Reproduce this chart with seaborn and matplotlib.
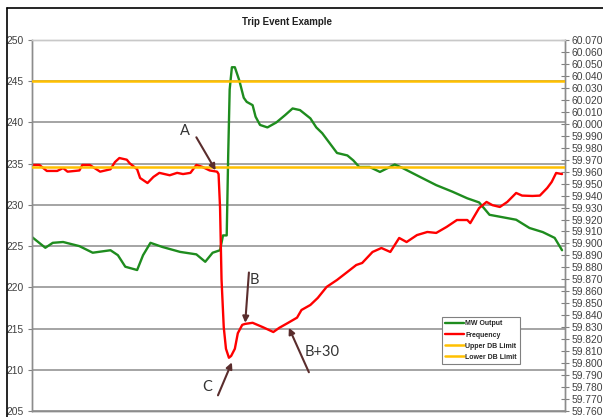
# Trip event chart: MW output (left axis) and frequency (right axis)

import matplotlib.pyplot as plt
import seaborn as sns
from matplotlib.lines import Line2D

# MW output, seconds vs MW
mw_time = [0, 9, 14, 21, 32, 41, 53, 58, 63, 71, 75, 80, 88, 100, 111, 117, 122, 127, 129,
           131.5, 132.5, 133.5, 135, 137, 140, 143, 145, 149, 151, 154, 159, 165, 171, 176,
           181, 188, 192, 196, 201, 206, 213, 217, 221, 228, 235, 245, 250, 262, 273, 284,
           294, 302, 309, 318, 327, 336, 345, 353, 358]
mw_output = [226.1, 224.8, 225.4, 225.5, 225.0, 224.2, 224.5, 223.9, 222.5, 222.1, 223.9,
             225.4, 224.9, 224.3, 224.0, 223.1, 224.2, 224.5, 226.3,
             226.3, 236.0, 244.0, 246.7, 246.7, 245.1, 243.0, 242.5, 242.1, 240.7, 239.7,
             239.4, 240.0, 240.9, 241.7, 241.5, 240.5, 239.4, 238.7, 237.5, 236.3, 236.0,
             235.4, 234.6, 234.6, 234.0, 234.9, 234.5, 233.4, 232.4, 231.6, 230.8, 230.3,
             228.8, 228.5, 228.2, 227.2, 226.7, 226.0, 224.5]

# Frequency, seconds vs Hz
freq_time = [0, 5, 10, 17, 21, 24, 32, 34, 39, 46, 53, 56, 59, 64, 66, 71, 73, 78, 82, 86,
             93, 98, 102, 107, 111, 115, 120, 125, 126, 127, 128, 129.5, 131, 133, 134.5,
             137, 139, 142, 144, 149, 156, 163, 167, 173, 179, 182, 188, 193, 199, 206, 213,
             219, 223, 230, 236, 242, 248, 253, 260, 267, 273, 280, 287, 294, 296, 302, 307,
             311, 316, 321, 327, 331, 338, 343, 348, 351, 354, 358]
frequency = [59.9656, 59.9656, 59.9606, 59.9606, 59.963, 59.960, 59.961, 59.9656, 59.9656,
             59.960, 59.962, 59.968, 59.9714, 59.970, 59.967, 59.962, 59.9547, 59.9505,
             59.9556, 59.959, 59.957, 59.959, 59.958, 59.959, 59.9656, 59.964, 59.961,
             59.960, 59.958, 59.930, 59.870, 59.830, 59.812, 59.8045, 59.806, 59.812,
             59.825, 59.832, 59.8328, 59.8337, 59.830, 59.826, 59.8295, 59.8337, 59.838,
             59.8444, 59.8486, 59.8545, 59.8637, 59.8695, 59.8762, 59.882, 59.8837,
             59.8929, 59.8962, 59.8929, 59.9046, 59.9012, 59.907, 59.9096, 59.9088,
             59.9138, 59.9196, 59.9196, 59.917, 59.9296, 59.9347, 59.932, 59.9305,
             59.9347, 59.9422, 59.940, 59.9397, 59.940, 59.9464, 59.9514, 59.9589, 59.958]

upper_db = 60.036
lower_db = 59.964

# annotations: label, text position, arrow tail, arrow head (time, MW)
notes = ["A", "B", "C", "B+30"]
note_text = [(103, 239.0), (150.5, 220.9), (118, 207.9), (196, 212.1)]
note_tail = [(111, 238.2), (146.5, 221.8), (125.6, 206.9), (187, 209.7)]
note_head = [(124, 234.2), (144, 215.7), (135, 210.9), (173.5, 215.1)]

sns.set_style("white")
plt.rcParams['font.family'] = ['Liberation Sans', 'DejaVu Sans']

fig, ax = plt.subplots(figsize=(6.03, 4.17), dpi=100)
fig.subplots_adjust(left=0.0531, right=0.937, bottom=0.0144, top=0.904)
ax2 = ax.twinx()

green = '#1e8c1e'
red = '#ff0000'
gold = '#ffc000'

sns.lineplot(x=mw_time, y=mw_output, ax=ax, color=green, lw=1.7, estimator=None,
             label='MW Output')
sns.lineplot(x=freq_time, y=frequency, ax=ax2, color=red, lw=1.7, estimator=None,
             label='Frequency')
ax2.axhline(upper_db, color=gold, lw=1.8, label='Upper DB Limit', zorder=3)
ax2.axhline(lower_db, color=gold, lw=1.8, label='Lower DB Limit', zorder=3)
for a in (ax, ax2):
    if a.get_legend():
        a.get_legend().remove()

ax.set_xlim(0, 360)
ax.set_ylim(205, 250)
ax.set_yticks(range(205, 251, 5))
ax2.set_ylim(59.76, 60.07)
ax2.set_yticks([59.76 + 0.01 * i for i in range(32)])
ax2.set_yticklabels([f"{59.76 + 0.01 * i:.3f}" for i in range(32)])
ax.set_xticks([])
ax2.set_xticks([])
ax.set_xlabel('')
ax.set_ylabel('')
ax2.set_ylabel('')

ax.yaxis.grid(True, color='#8c8c8c', lw=1.1)
ax.set_axisbelow(True)
ax.tick_params(axis='y', direction='out', length=3, width=0.8, color='#808080',
               labelsize=7.4, labelcolor='#404040', pad=3, left=True)
ax2.tick_params(axis='y', direction='inout', length=6, width=0.8, color='#808080',
                labelsize=7.4, labelcolor='#404040', pad=1.5, right=True)
for a in (ax, ax2):
    for s in a.spines.values():
        s.set_color('#8c8c8c')
        s.set_linewidth(1.0)
    a.spines['top'].set_color('#c8c8c8')

# legend combining both axes
h1, l1 = ax.get_legend_handles_labels()
h2, l2 = ax2.get_legend_handles_labels()
leg = ax2.legend(h1 + h2, l1 + l2, loc='upper left', bbox_to_anchor=(0.762, 0.262),
                 prop={'size': 5.0, 'weight': 'bold'}, handlelength=2.8,
                 handletextpad=0.15, labelspacing=0.6, borderpad=0.45,
                 fancybox=False, edgecolor='#808080', framealpha=1)
leg.get_frame().set_linewidth(0.8)
leg.set_zorder(5)

for lab, tp, tail, head in zip(notes, note_text, note_tail, note_head):
    ax2.annotate('', xy=head, xytext=tail, xycoords=ax.transData,
                 textcoords=ax.transData,
                 arrowprops=dict(arrowstyle='-|>', color='#5a2d2d', lw=1.5,
                                 mutation_scale=9, shrinkA=0, shrinkB=0), zorder=6)
    ax2.text(tp[0], tp[1], lab, transform=ax.transData, fontsize=10.5,
             family=['Lato', 'DejaVu Sans'], color='#333333', ha='center', va='center',
             zorder=6)

fig.text(0.476, 0.947, 'Trip Event Example', ha='center', va='center',
         fontsize=7, fontweight='bold', color='#202020')

# chart-area border (cut off at right and bottom)
fig.add_artist(Line2D([0.0116, 0.0116], [0, 0.981], color='black', lw=1.2,
                      transform=fig.transFigure))
fig.add_artist(Line2D([0.0116, 1], [0.981, 0.981], color='black', lw=1.2,
                      transform=fig.transFigure))

fig.savefig('out.png', dpi=100)
